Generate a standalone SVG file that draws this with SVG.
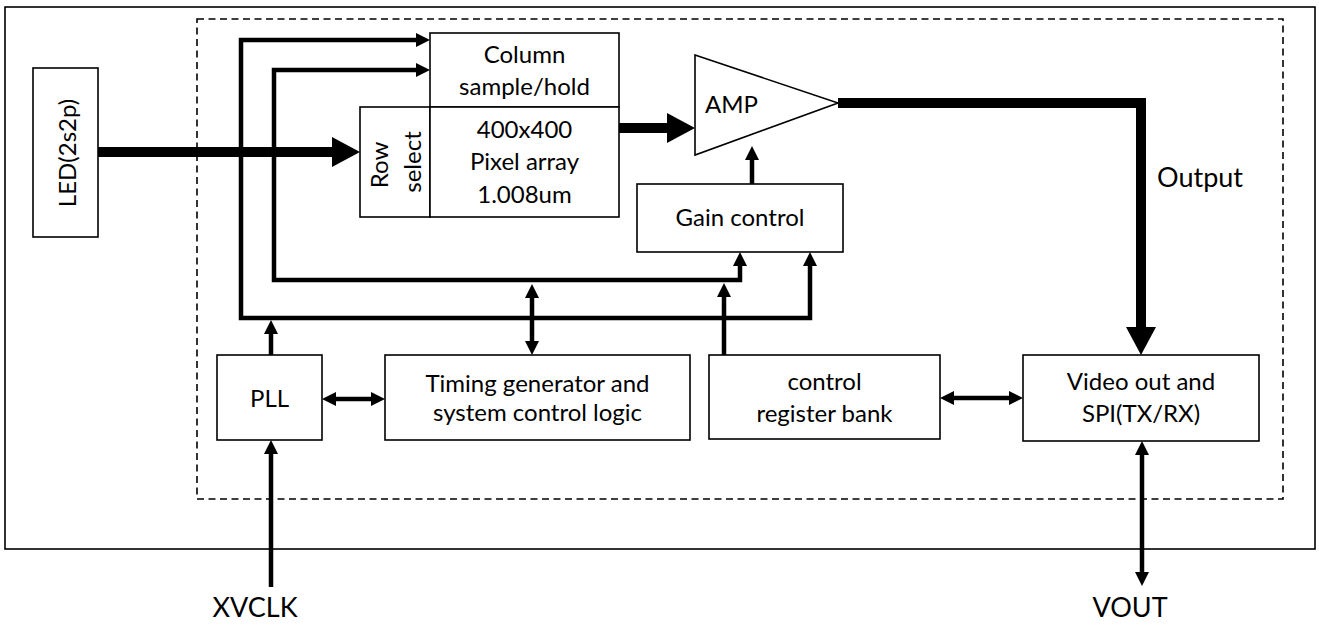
<svg xmlns="http://www.w3.org/2000/svg" width="1319" height="627" viewBox="0 0 1319 627">
<style>
  .box { fill: #fff; stroke: #000; stroke-width: 1.6; }
  .frame { fill: none; stroke: #000; stroke-width: 1.6; }
  .dash { fill: none; stroke: #000; stroke-width: 1.6; stroke-dasharray: 7 4.5; }
  .t { font-family: Lato, "Liberation Sans", sans-serif; font-size: 24px; fill: #000; text-anchor: middle; }
  .lbl { font-family: Lato, "Liberation Sans", sans-serif; font-size: 27px; fill: #000; }
  .w { fill: none; stroke: #000; stroke-width: 4.5; }
  .thick { fill: none; stroke: #000; stroke-width: 10; }
</style>
<defs>
  <marker id="a" markerUnits="userSpaceOnUse" markerWidth="14" markerHeight="14" refX="4" refY="7" orient="auto-start-reverse">
    <path d="M0,0 L14,7 L0,14 z" fill="#000"/>
  </marker>
  <marker id="A" markerUnits="userSpaceOnUse" markerWidth="28" markerHeight="30" refX="8" refY="15" orient="auto-start-reverse">
    <path d="M0,0 L28,15 L0,30 z" fill="#000"/>
  </marker>
</defs>

<rect id="outer" class="frame" x="5" y="7" width="1310" height="542"/>
<rect id="chip" class="dash" x="197" y="19" width="1086" height="480"/>

<g id="connectors">
  <path class="thick" d="M98,152 H340" marker-end="url(#A)"/>
  <path class="thick" d="M619,128 H675" marker-end="url(#A)"/>
  <path class="thick" d="M838,103 H1141 V335" marker-end="url(#A)"/>
  <path class="w" d="M420,40 H241 V318 H810 V262" marker-start="url(#a)" marker-end="url(#a)"/>
  <path class="w" d="M420,70 H274 V280 H740 V262" marker-start="url(#a)" marker-end="url(#a)"/>
  <path class="w" d="M752,184 V156" marker-end="url(#a)"/>
  <path class="w" d="M271,355 V330" marker-end="url(#a)"/>
  <path class="w" d="M271,587 V450" marker-end="url(#a)"/>
  <path class="w" d="M332,399 H375" marker-start="url(#a)" marker-end="url(#a)"/>
  <path class="w" d="M532,294 V345" marker-start="url(#a)" marker-end="url(#a)"/>
  <path class="w" d="M724,355 V293" marker-end="url(#a)"/>
  <path class="w" d="M950,398 H1013" marker-start="url(#a)" marker-end="url(#a)"/>
  <path class="w" d="M1142,451 V576" marker-start="url(#a)" marker-end="url(#a)"/>
</g>

<g id="led">
  <rect class="box" x="33" y="68" width="65" height="169"/>
  <text class="t" transform="translate(76,153) rotate(-90)">LED(2s2p)</text>
</g>

<g id="column">
  <rect class="box" x="430" y="33" width="189" height="74"/>
  <text class="t" x="524.5" y="63">Column</text>
  <text class="t" x="524.5" y="95">sample/hold</text>
</g>

<g id="rowselect">
  <rect class="box" x="360" y="107" width="70" height="110"/>
  <text class="t" transform="translate(388,165) rotate(-90)">Row</text>
  <text class="t" transform="translate(421,162) rotate(-90)">select</text>
</g>

<g id="pixel">
  <rect class="box" x="430" y="107" width="189" height="110"/>
  <text class="t" x="524.5" y="138">400x400</text>
  <text class="t" x="524.5" y="170">Pixel array</text>
  <text class="t" x="524.5" y="203">1.008um</text>
</g>

<g id="amp">
  <path class="box" d="M695,55 L838,103 L695,155 z"/>
  <text class="t" x="705" y="113" style="text-anchor:start">AMP</text>
</g>

<g id="gain">
  <rect class="box" x="637" y="184" width="206" height="68"/>
  <text class="t" x="740" y="226">Gain control</text>
</g>

<g id="pll">
  <rect class="box" x="217" y="355" width="105" height="85"/>
  <text class="t" x="269.5" y="407">PLL</text>
</g>

<g id="timing">
  <rect class="box" x="385" y="355" width="305" height="85"/>
  <text class="t" x="537.5" y="392">Timing generator and</text>
  <text class="t" x="537.5" y="421">system control logic</text>
</g>

<g id="ctrlreg">
  <rect class="box" x="709" y="355" width="231" height="84"/>
  <text class="t" x="824.5" y="390">control</text>
  <text class="t" x="824.5" y="422">register bank</text>
</g>

<g id="video">
  <rect class="box" x="1023" y="355" width="236" height="86"/>
  <text class="t" x="1141" y="390">Video out and</text>
  <text class="t" x="1141" y="422">SPI(TX/RX)</text>
</g>

<text id="output" class="lbl" x="1157" y="187">Output</text>
<text id="xvclk" class="lbl" x="255" y="617" style="text-anchor:middle">XVCLK</text>
<text id="vout" class="lbl" x="1130" y="617" style="text-anchor:middle">VOUT</text>
</svg>
